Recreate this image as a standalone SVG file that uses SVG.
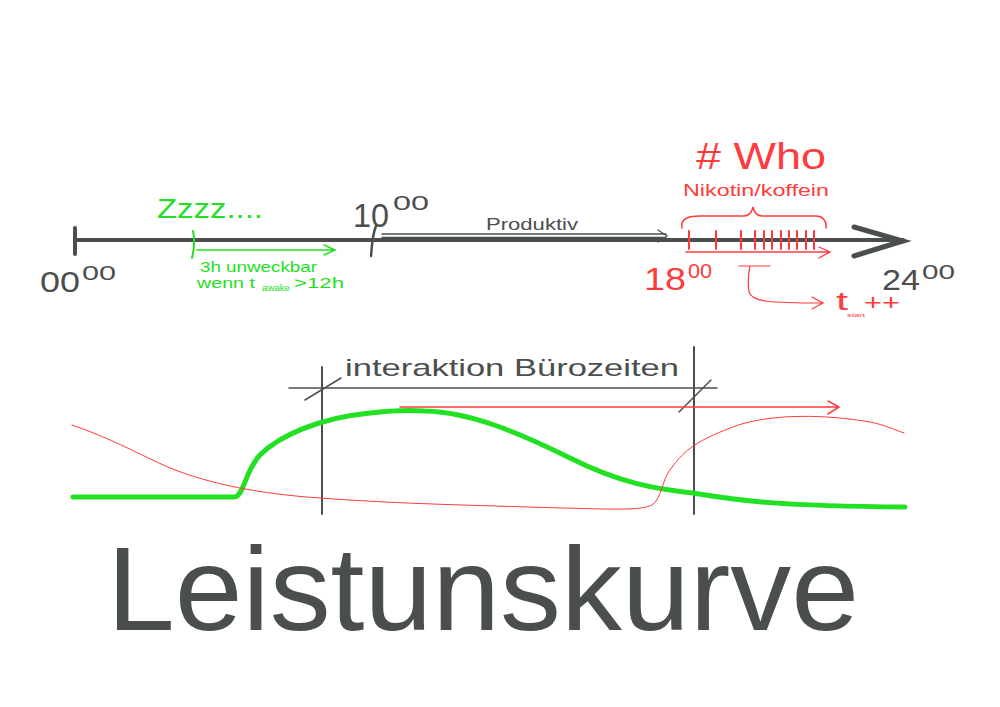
<svg xmlns="http://www.w3.org/2000/svg" width="1000" height="707" viewBox="0 0 1000 707">
<defs>
<style>
.g{stroke:#4a4f4e;fill:none;stroke-linecap:round}
.gr{stroke:#22e022;fill:none;stroke-linecap:round}
.r{stroke:#ff3b3b;fill:none;stroke-linecap:round}
.tg{font-family:"Liberation Sans",Arial,sans-serif;fill:#4a4f4e}
.tgr{font-family:"Liberation Sans",Arial,sans-serif;fill:#22e022}
.tr{font-family:"Liberation Sans",Arial,sans-serif;fill:#ff3b3b}
</style>
</defs>
<rect width="1000" height="707" fill="#ffffff"/>

<g id="connectors">
<path class="g" d="M75 240 H903" stroke-width="4"/>
<path class="g" d="M75 228 V254" stroke-width="4"/>
<path class="g" d="M854 227 L903 241 L854 256" stroke-width="5"/>
<path class="g" d="M376 226 C372 236 372 246 371 256" stroke-width="2.5"/>
<path class="g" d="M382 234 H666 M382 237.5 H666 M658 230 L667 236 L658 242" stroke-width="1.3"/>
<path class="gr" d="M193 231 C195 240 194 250 192 258" stroke-width="2"/>
<path class="gr" d="M197 250 H334 M324 245 L335 250 L324 255" stroke-width="1.5"/>
<g class="r" stroke-width="2">
<path d="M689 231 V249 M716 231 V249 M741 231 V249 M755 231 V249 M764 231 V249 M772 231 V249 M781 231 V249 M789 231 V249 M797 231 V249 M806 231 V249 M814 231 V249"/>
</g>
<path class="r" d="M686 252 H829 M819 247 L830 252 L819 258" stroke-width="1.3" stroke="#ff5050"/>
<path class="r" d="M682 228 C680 218 690 216 700 216 H744 C750 216 752 212 753 207 C754 212 756 216 762 216 H816 C822 216 827 220 826 228" stroke-width="1.5"/>
<path class="r" d="M739 266 H770 M750 266 C748 275 748 285 749 292 C752 302 770 303 822 303 M812 297 L823 303 L812 309" stroke-width="1.2"/>

<path class="g" d="M289 388 H717" stroke-width="1.5"/>
<path class="g" d="M322 367 V514 M694 347 V514" stroke-width="2"/>
<path class="g" d="M305 400 L341 378 M679 412 L711 380" stroke-width="1.5"/>
<path class="r" d="M400 407 H838 M828 401 L839 407 L828 414" stroke-width="1.5" stroke="#ff6060"/>
<path class="gr" d="M73 497 H234 C244 497 245 470 260 455 C280 435 320 418 370 413 C395 410 410 410 425 411 C470 412 520 433 570 458 C620 483 655 489 693 493 C740 501 780 506 905 507" stroke-width="5"/>
<path class="r" d="M72 425 C110 438 130 450 170 468 C210 484 260 494 320 498 C400 504 470 505 560 508 C610 509 640 511 652 505 C662 498 662 480 670 470 C685 448 700 440 730 428 C770 412 830 415 870 422 C885 425 895 430 904 433" stroke-width="1" stroke="#ff5050"/>
</g>

<g id="label-0000">
<text class="tg" x="40" y="292" font-size="30" textLength="40" lengthAdjust="spacingAndGlyphs">00</text>
<text class="tg" x="82" y="280" font-size="21" textLength="34" lengthAdjust="spacingAndGlyphs">00</text>
</g>
<g id="label-1000">
<text class="tg" x="353" y="227" font-size="34" textLength="36" lengthAdjust="spacingAndGlyphs">10</text>
<text class="tg" x="393" y="210" font-size="21" textLength="36" lengthAdjust="spacingAndGlyphs">00</text>
</g>
<g id="label-zzzz">
<text class="tgr" x="157" y="218" font-size="28" textLength="106" lengthAdjust="spacingAndGlyphs">Zzzz....</text>
</g>
<g id="label-sleep">
<text class="tgr" x="200" y="272" font-size="14" textLength="117" lengthAdjust="spacingAndGlyphs">3h unweckbar</text>
<text class="tgr" x="197" y="288" font-size="14" textLength="58" lengthAdjust="spacingAndGlyphs">wenn t</text>
<text class="tgr" x="262" y="291" font-size="9" textLength="28" lengthAdjust="spacingAndGlyphs">awake</text>
<text class="tgr" x="294" y="288" font-size="14" textLength="50" lengthAdjust="spacingAndGlyphs">&gt;12h</text>
</g>
<g id="label-produktiv">
<text class="tg" x="486" y="230" font-size="17" textLength="92" lengthAdjust="spacingAndGlyphs">Produktiv</text>
</g>
<g id="label-who">
<text class="tr" x="696" y="169" font-size="36" textLength="130" lengthAdjust="spacingAndGlyphs"># Who</text>
<text class="tr" x="683" y="196" font-size="16" textLength="146" lengthAdjust="spacingAndGlyphs">Nikotin/koffein</text>
</g>
<g id="label-1800">
<text class="tr" x="644" y="290" font-size="32" textLength="42" lengthAdjust="spacingAndGlyphs">18</text>
<text class="tr" x="688" y="278" font-size="20" textLength="24" lengthAdjust="spacingAndGlyphs">00</text>
</g>
<g id="label-tstart">
<text class="tr" x="836" y="310" font-size="26" textLength="12" lengthAdjust="spacingAndGlyphs">t</text>
<text class="tr" x="847" y="317" font-size="6" textLength="18" lengthAdjust="spacingAndGlyphs">start</text>
<text class="tr" x="864" y="310" font-size="22" textLength="36" lengthAdjust="spacingAndGlyphs">++</text>
</g>
<g id="label-2400">
<text class="tg" x="882" y="290" font-size="30" textLength="38" lengthAdjust="spacingAndGlyphs">24</text>
<text class="tg" x="922" y="279" font-size="20" textLength="33" lengthAdjust="spacingAndGlyphs">00</text>
</g>
<g id="label-interaktion">
<text class="tg" x="345" y="376" font-size="24" textLength="334" lengthAdjust="spacingAndGlyphs">interaktion  Bürozeiten</text>
</g>
<g id="title">
<text class="tg" x="107" y="630" font-size="118" textLength="752" lengthAdjust="spacingAndGlyphs">Leistunskurve</text>
</g>
</svg>
